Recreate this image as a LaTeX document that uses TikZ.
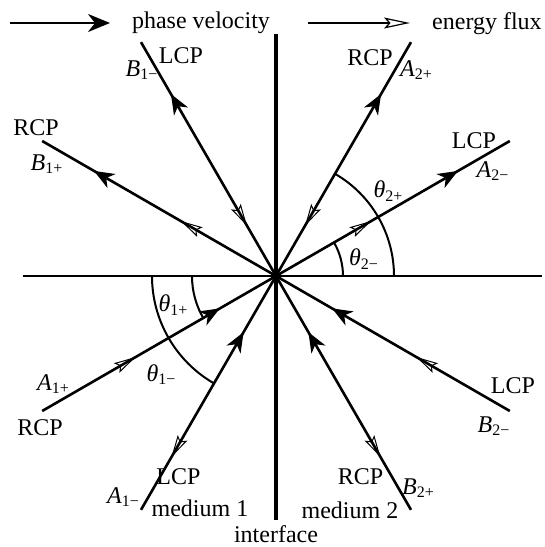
\documentclass[tikz,border=0pt]{standalone}
\usepackage{amsmath}
\usepackage{fontspec}
\setmainfont{Liberation Serif}
\usetikzlibrary{arrows.meta,decorations.markings}

\newcommand{\wave}[2]{\textit{#1}$_{\text{#2}}$}

\begin{document}
\begin{tikzpicture}[
  x=0.5pt, y=0.5pt,
  font=\fontsize{12}{14}\selectfont,
  >={Stealth[length=10pt, width=8pt, inset=3pt]},
  ray/.style={line width=1.3pt},
  ang/.style={line width=1pt},
  pout/.style={postaction={decorate, decoration={markings,
      mark=at position #1 with {\arrow{>}}}}},
  pin/.style={postaction={decorate, decoration={markings,
      mark=at position #1 with {\arrowreversed{>}}}}},
  eout/.style={postaction={decorate, decoration={markings,
      mark=at position #1 with {\arrow{Stealth[open, length=11pt, width=5.5pt, inset=2pt, line width=0.5pt]}}}}},
  ein/.style={postaction={decorate, decoration={markings,
      mark=at position #1 with {\arrowreversed{Stealth[open, length=11pt, width=5.5pt, inset=2pt, line width=0.5pt]}}}}},
]
\useasboundingbox (-276,-271) rectangle (269,276);
\coordinate (O) at (0,0);
\coordinate (itop) at (0,242);
\coordinate (ibot) at (0,-244);
\coordinate (hl) at (-253,0);
\coordinate (hr) at (266,0);
\coordinate (a1p) at (210:270);
\coordinate (a1m) at (240:270);
\coordinate (b1p) at (150:270);
\coordinate (b1m) at (120:270);
\coordinate (a2p) at (60:270);
\coordinate (a2m) at (30:270);
\coordinate (b2p) at (-60:270);
\coordinate (b2m) at (-30:270);
\coordinate (pv0) at (-266,253);
\coordinate (pv1) at (-166,253);
\coordinate (ef0) at (32,253);
\coordinate (ef1) at (134,253);

% legend
\draw[line width=1.1pt, -{Stealth[length=11pt, width=9pt, inset=3.5pt]}] (pv0) -- (pv1);
\node (pvtext) at (-75,253) {phase velocity};
\draw[line width=1.1pt, -{Stealth[open, length=13pt, width=5.5pt, inset=2.5pt, line width=0.6pt]}] (ef0) -- (ef1);
\node (eftext) at (211,252) {energy flux};

% interface and normal
\draw[line width=1.2pt] (hl) -- (hr);
\draw[line width=2.2pt] (itop) -- (ibot);

% medium 1
\draw[ray, pin=0.24, ein=0.6] (O) -- (a1p);
\draw[ray, pin=0.24, eout=0.774] (O) -- (a1m);
\draw[ray, pout=0.778, eout=0.407] (O) -- (b1p);
\draw[ray, pout=0.778, ein=0.215] (O) -- (b1m);
% medium 2
\draw[ray, pout=0.778, ein=0.215] (O) -- (a2p);
\draw[ray, pout=0.778, eout=0.407] (O) -- (a2m);
\draw[ray, pin=0.24, eout=0.774] (O) -- (b2p);
\draw[ray, pin=0.24, ein=0.6] (O) -- (b2m);

% angles
\draw[ang] (O) ++(180:84) arc[start angle=180, end angle=210, radius=84];
\draw[ang] (O) ++(180:124) arc[start angle=180, end angle=240, radius=124];
\draw[ang] (O) ++(0:67) arc[start angle=0, end angle=30, radius=67];
\draw[ang] (O) ++(0:118) arc[start angle=0, end angle=60, radius=118];
\node (t1p) at (-102.5,-29) {\wave{θ}{1+}};
\node (t1m) at (-114.5,-98.5) {\wave{θ}{1−}};
\node (t2p) at (112.5,85) {\wave{θ}{2+}};
\node (t2m) at (88,17) {\wave{θ}{2−}};

% labels
\node (b1mpol) at (-95,220.5) {LCP};
\node (b1mtxt) at (-134,206) {\wave{B}{1−}};
\node (b1ppol) at (-240,148) {RCP};
\node (b1ptxt) at (-229,112) {\wave{B}{1+}};
\node (a2ppol) at (94,218.5) {RCP};
\node (a2ptxt) at (140.5,206) {\wave{A}{2+}};
\node (a2mpol) at (198,135) {LCP};
\node (a2mtxt) at (217,105) {\wave{A}{2−}};
\node (a1ptxt) at (-222.5,-108) {\wave{A}{1+}};
\node (a1ppol) at (-236,-151.5) {RCP};
\node (a1mpol) at (-97.5,-201) {LCP};
\node (a1mtxt) at (-152.5,-221) {\wave{A}{1−}};
\node (b2mpol) at (237,-109.5) {LCP};
\node (b2mtxt) at (218,-150) {\wave{B}{2−}};
\node (b2ppol) at (84.5,-200.5) {RCP};
\node (b2ptxt) at (142.5,-212) {\wave{B}{2+}};
\node (med1) at (-76,-232.5) {medium 1};
\node (med2) at (74,-234.5) {medium 2};
\node (iface) at (0,-258) {interface};
\end{tikzpicture}
\end{document}
